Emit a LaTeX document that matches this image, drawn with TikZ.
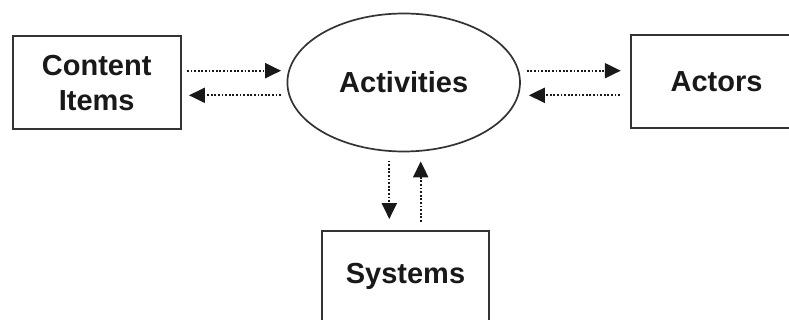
\documentclass[tikz,border=0pt]{standalone}
\usepackage{fontspec}
\setmainfont{Liberation Sans}
\usetikzlibrary{arrows.meta,calc,shapes.geometric}
\begin{document}
\begin{tikzpicture}[x=1pt,y=-1pt,
  every node/.style={font=\bfseries\fontsize{29}{35}\selectfont, text=black!90},
  boxnode/.style={draw=black!80, line width=1.9pt, rectangle, align=center, inner sep=0pt},
  ovalnode/.style={draw=black!80, line width=1.7pt, ellipse, inner sep=0pt},
  flow/.style={draw=black!90, line width=2.1pt, dash pattern=on 1.8pt off 1.8pt,
    -{Triangle[length=16pt,width=15pt]}}]
  \useasboundingbox (0,0) rectangle (789,320);
  \clip (0,0) rectangle (789,320);
  % the four parts of the model
  \node[boxnode, minimum width=168pt, minimum height=93pt] (ci) at (96.7,82.7) {Content\\Items};
  \node[ovalnode, minimum width=232.6pt, minimum height=138pt] (act) at (403.7,82.5) {Activities};
  \node[boxnode, minimum width=171pt, minimum height=93.3pt] (ac) at (716.5,81.7) {Actors};
  \node[boxnode, minimum width=167.6pt, minimum height=92pt] (sys) at (405.5,276.7) {Systems};
  % exchanges between content items and activities
  \draw[flow] ($(ci.east)+(5.3,-12)$) -- ($(ci.east -| act.west)+(-5.5,-12)$);
  \draw[flow] ($(ci.east -| act.west)+(-5.5,12.6)$) -- ($(ci.east)+(7.3,12.6)$);
  % exchanges between activities and actors
  \draw[flow] ($(ac.west -| act.east)+(6,-11)$) -- ($(ac.west)+(-9.3,-11)$);
  \draw[flow] ($(ac.west)+(-10,13.6)$) -- ($(ac.west -| act.east)+(8,13.6)$);
  % exchanges between activities and systems
  \draw[flow] ($(act.south)+(-14.4,8.3)$) -- ($(sys.north -| act.south)+(-14.4,-10.7)$);
  \draw[flow] ($(sys.north -| act.south)+(17,-8)$) -- ($(act.south)+(17,9)$);
\end{tikzpicture}
\end{document}
